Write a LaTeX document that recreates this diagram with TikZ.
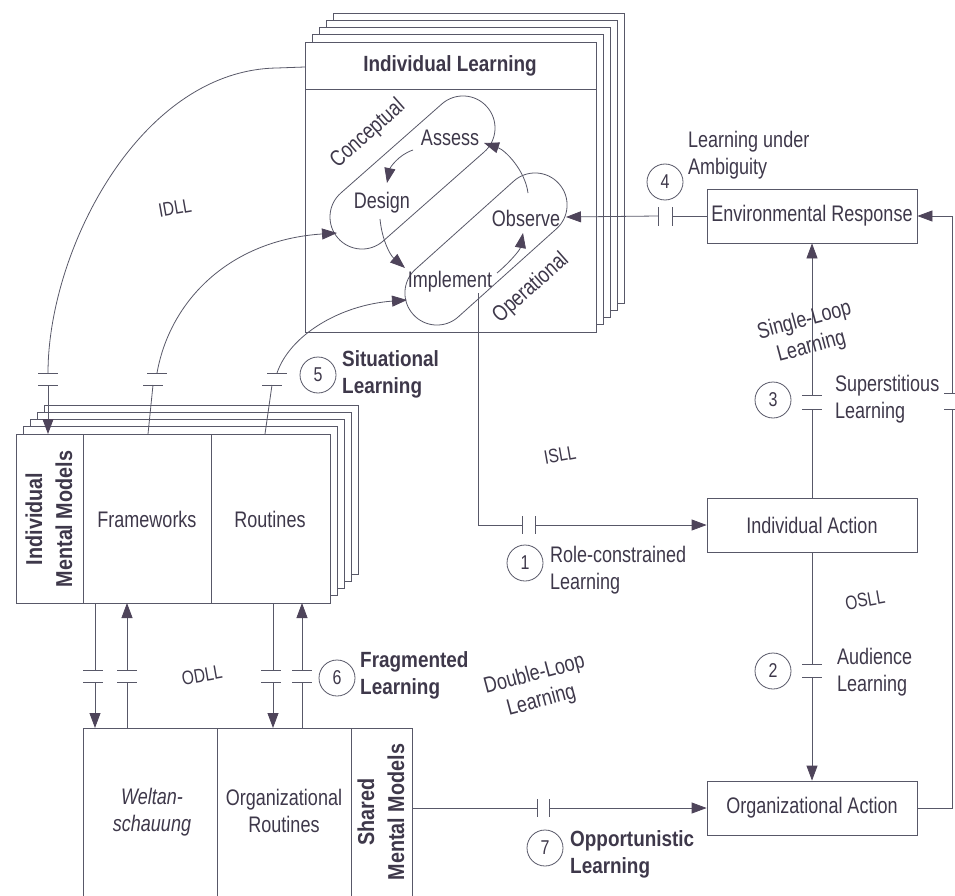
\documentclass[tikz,border=0pt]{standalone}
\usepackage{fontspec}
\setmainfont{Liberation Sans}[FakeStretch=0.8]
\newfontfamily\bfam{Liberation Sans}[FakeStretch=0.86]
\usetikzlibrary{arrows.meta}
\definecolor{ink}{RGB}{62,56,74}
\definecolor{linec}{RGB}{88,88,104}
\definecolor{tipc}{RGB}{78,68,90}
\begin{document}
\begin{tikzpicture}[x=1pt,y=-1pt,
  ln/.style={draw=linec,line width=0.8pt},
  arr/.style={ln,-{Triangle[length=15pt,width=11pt,color=tipc]}},
  page/.style={ln,fill=white},
  txt/.style={text=ink,font=\fontsize{22.5}{27}\selectfont,inner sep=0pt},
  btxt/.style={text=ink,font=\bfam\bfseries\fontsize{22}{27}\selectfont,inner sep=0pt},
  rbtxt/.style={text=ink,font=\bfam\bfseries\fontsize{23}{30}\selectfont,inner sep=0pt,rotate=90,align=center},
  hand/.style={text=ink,font=\fontsize{19.5}{23}\selectfont,inner sep=0pt,rotate=10},
  num/.style={circle,draw=linec,line width=0.8pt,fill=white,minimum size=36pt,inner sep=0pt,text=ink,font=\fontsize{20}{24}\selectfont},
  actbox/.style={rectangle,draw=linec,line width=0.8pt,fill=white,minimum width=210pt,minimum height=54pt,inner sep=0pt,text=ink,font=\fontsize{22.5}{27}\selectfont},
]
\useasboundingbox (0,0) rectangle (955,896);
\clip (0,0) rectangle (955,896);

% ---------- Individual Learning stack ----------
\foreach \k in {4,3,2,1} {
  \draw[page] (305+7*\k,42-7.25*\k) rectangle (596+7*\k,332-7.25*\k);
}
\draw[page] (305,42) rectangle (596,332);
\draw[ln] (305,89) -- (596,89);
\node[btxt] (ilt) at (450,66) {Individual Learning};
\coordinate (ilhl) at (305,67);

% stadiums
\begin{scope}[shift={(412.5,172.5)},rotate=41.4]
  \draw[ln,rounded corners=31.9pt] (-99.3,-32) rectangle (99.3,32);
\end{scope}
\begin{scope}[shift={(486,249)},rotate=41.9]
  \draw[ln,rounded corners=31.9pt] (-97.9,-32) rectangle (97.9,32);
\end{scope}
\node[txt,rotate=41.5] (concept) at (368,134) {Conceptual};
\node[txt,rotate=41.5] (operat) at (531,288) {Operational};

\node[txt] (assess) at (450,138) {Assess};
\node[txt] (design) at (382,203) {Design};
\node[txt] (observe) at (526,218) {Observe};
\node[txt] (implement) at (450,282) {Implement};

\coordinate (asA) at (413,150);
\coordinate (dsT) at (387,183);
\coordinate (dsB) at (380,219);
\coordinate (imT) at (405,268);
\coordinate (imR) at (497,273);
\coordinate (obT) at (523,233);
\coordinate (obU) at (528,193);
\coordinate (asT) at (484,143);
\draw[arr] (asA) .. controls (398,155) and (390,168) .. (dsT);
\draw[arr] (dsB) .. controls (382,240) and (390,255) .. (imT);
\draw[arr] (imR) .. controls (510,262) and (520,250) .. (obT);
\draw[arr] (obU) .. controls (525,170) and (505,150) .. (asT);

% ---------- Individual Mental Models stack ----------
\foreach \k in {4,3,2,1} {
  \draw[page] (16+7*\k,434-7.2*\k) rectangle (330+7*\k,603-7.2*\k);
}
\draw[page] (16,434) rectangle (330,603);
\draw[ln] (83,434) -- (83,603);
\draw[ln] (211,434) -- (211,603);
\node[rbtxt] (imm) at (49,519) {Individual\\Mental Models};
\node[txt] (frames) at (147,519) {Frameworks};
\node[txt] (routines) at (270,519) {Routines};

% ---------- Shared Mental Models ----------
\draw[page] (83,728) rectangle (412,910);
\draw[ln] (217,728) -- (217,910);
\draw[ln] (351,728) -- (351,910);
\node[txt,align=center,font=\itshape\fontsize{22.5}{27}\selectfont] (welt) at (152,812) {Weltan-\\schauung};
\node[txt,align=center] (orgr) at (284,811) {Organizational\\Routines};
\node[rbtxt] (smm) at (381,812) {Shared\\Mental Models};

% ---------- action boxes ----------
\node[actbox] (envresp) at (812,216) {Environmental Response};
\node[actbox] (indact) at (812,525) {Individual Action};
\node[actbox] (orgact) at (812,808) {Organizational Action};

% ---------- connectors ----------
% IDLL
\coordinate (idA) at (48,373);
\coordinate (idB) at (48,385);
\coordinate (immT) at (48,434);
\draw[ln] (ilhl) -- (277,68) .. controls (140,70) and (48,250) .. (idA);
\draw[arr] (idB) -- (immT);
\draw[ln] (38,373) -- (58,373);
\draw[ln] (38,385) -- (58,385);

% Frameworks -> Design
\coordinate (frT) at (148,434);
\coordinate (frA) at (153,385);
\coordinate (frB) at (157,373);
\coordinate (dsL) at (337,233);
\draw[ln] (frT) -- (frA);
\draw[arr] (frB) .. controls (170,300) and (230,240) .. (dsL);
\draw[ln] (143,385) -- (163,385);
\draw[ln] (147,373) -- (167,373);

% Routines -> Implement
\coordinate (roT) at (265,434);
\coordinate (roA) at (272,385);
\coordinate (roB) at (277,373);
\coordinate (imL) at (407,300);
\draw[ln] (roT) -- (roA);
\draw[arr] (roB) .. controls (290,335) and (340,305) .. (imL);
\draw[ln] (262,385) -- (282,385);
\draw[ln] (267,373) -- (287,373);

% Environmental Response -> Observe
\coordinate (obR) at (566,217);
\draw[ln] (envresp.west) -- (672,216);
\draw[arr] (658,216) -- (obR);
\draw[ln] (672,207) -- (672,226);
\draw[ln] (658,207) -- (658,226);

% ISLL
\coordinate (imB) at (478,293);
\draw[ln] (imB) -- (478,525) -- (522,525);
\draw[arr] (535,525) -- (indact.west);
\draw[ln] (522,516) -- (522,534);
\draw[ln] (535,516) -- (535,534);

% Individual Action -> Environmental Response
\draw[ln] (indact.north) -- (812,409);
\draw[arr] (812,395) -- (envresp.south);
\draw[ln] (802,395) -- (822,395);
\draw[ln] (802,409) -- (822,409);

% Individual Action -> Organizational Action
\draw[ln] (indact.south) -- (812,664);
\draw[arr] (812,677) -- (orgact.north);
\draw[ln] (802,664) -- (822,664);
\draw[ln] (802,677) -- (822,677);

% Organizational Action -> Environmental Response (superstitious)
\draw[ln] (orgact.east) -- (952,808) -- (952,409);
\draw[arr] (952,393) -- (952,216) -- (envresp.east);
\draw[ln] (944,393) -- (962,393);
\draw[ln] (944,409) -- (962,409);

% Shared Mental Models -> Organizational Action
\coordinate (smmR) at (412,808);
\draw[ln] (smmR) -- (537,808);
\draw[arr] (549,808) -- (orgact.west);
\draw[ln] (537,799) -- (537,817);
\draw[ln] (549,799) -- (549,817);

% ODLL arrows
\draw[ln] (95,603) -- (95,670);
\draw[arr] (95,682) -- (95,728);
\draw[ln] (127,728) -- (127,682);
\draw[arr] (127,670) -- (127,603);
\draw[ln] (273,603) -- (273,670);
\draw[arr] (273,682) -- (273,728);
\draw[ln] (302,728) -- (302,682);
\draw[arr] (302,670) -- (302,603);
\foreach \x in {93,127,271,302} {
  \draw[ln] (\x-10,670) -- (\x+10,670);
  \draw[ln] (\x-10,682) -- (\x+10,682);
}

% ---------- numbered labels ----------
\node[num] (n1) at (525,563) {1};
\node[num] (n2) at (773,671) {2};
\node[num] (n3) at (773,400) {3};
\node[num] (n4) at (665,182) {4};
\node[num] (n5) at (318,375) {5};
\node[num] (n6) at (337,678) {6};
\node[num] (n7) at (545,848) {7};

\node[txt,align=left,anchor=west] (l1) at (550,570) {Role-constrained\\Learning};
\node[txt,align=left,anchor=west] (l2) at (837,672) {Audience\\Learning};
\node[txt,align=left,anchor=west] (l3) at (835,399) {Superstitious\\Learning};
\node[txt,align=left,anchor=west] (l4) at (688,155) {Learning under\\Ambiguity};
\node[btxt,align=left,anchor=west] (l5) at (342,374) {Situational\\Learning};
\node[btxt,align=left,anchor=west] (l6) at (360,675) {Fragmented\\Learning};
\node[btxt,align=left,anchor=west] (l7) at (570,854) {Opportunistic\\Learning};

\node[txt,align=center,rotate=15] (sll) at (808,334) {Single-Loop\\Learning};
\node[txt,align=center,rotate=15] (dll) at (538,688) {Double-Loop\\Learning};

\node[hand] (idll) at (175,208) {IDLL};
\node[hand] (isll) at (560,455) {ISLL};
\node[hand] (odll) at (202,675) {ODLL};
\node[hand] (osll) at (865,600) {OSLL};
\end{tikzpicture}
\end{document}
